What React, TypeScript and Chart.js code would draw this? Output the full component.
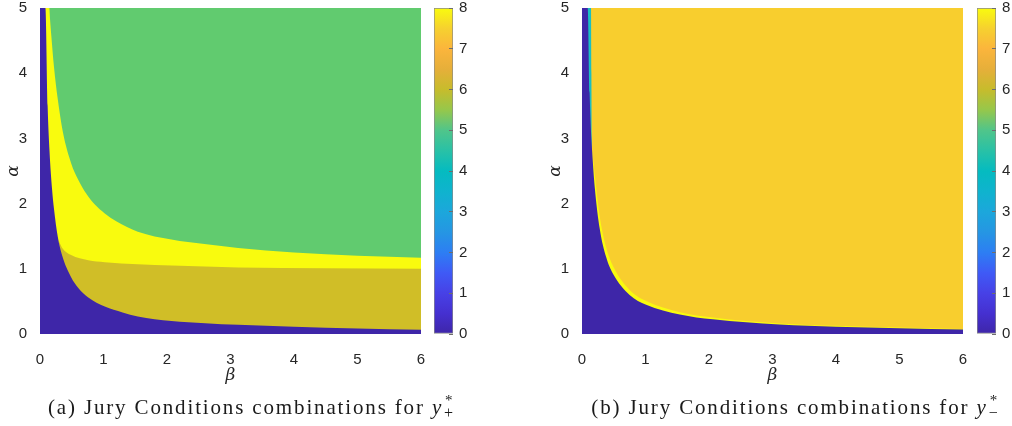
import React, { useEffect, useRef } from 'react';
import { Chart, registerables } from 'chart.js';

Chart.register(...registerables);

// ---------------- data ----------------
const betaTicks = [0, 1, 2, 3, 4, 5, 6];
const alphaTicks = [0, 1, 2, 3, 4, 5];
const levelTicks = [0, 1, 2, 3, 4, 5, 6, 7, 8];

// Panel (a): boundaries of the regions (beta -> alpha)
const aBlueBeta = [0, 0.085, 0.12, 0.15, 0.19, 0.22, 0.28, 0.35, 0.49, 0.6, 0.76, 1.02, 1.3, 1.54, 2.07, 2.6, 3.12, 4, 5, 6];
const aBlueAlpha = [5, 5, 3.5, 2.8, 2.22, 1.92, 1.49, 1.2, 0.87, 0.71, 0.56, 0.42, 0.33, 0.27, 0.2, 0.165, 0.14, 0.11, 0.085, 0.066];
const aOliveBeta = [0.29, 0.35, 0.49, 0.76, 1.02, 1.54, 2.07, 3.12, 4.5, 6];
const aOliveAlpha = [1.44, 1.32, 1.21, 1.13, 1.1, 1.07, 1.05, 1.02, 1.01, 1.0];
const aGreenBeta = [0.145, 0.18, 0.22, 0.28, 0.36, 0.49, 0.6, 0.73, 0.86, 1.02, 1.2, 1.54, 2.07, 2.59, 3.12, 4, 5, 6];
const aGreenAlpha = [5, 4.55, 4.1, 3.6, 3.1, 2.62, 2.37, 2.15, 1.99, 1.85, 1.73, 1.57, 1.45, 1.38, 1.32, 1.25, 1.2, 1.17];
const aTopBeta = [0, 6];
const aTopAlpha = [5, 5];

// Panel (b)
const bBlueBeta = [0, 0.09, 0.12, 0.142, 0.16, 0.2, 0.28, 0.38, 0.49, 0.75, 1.01, 1.54, 2.06, 3.11, 4, 5, 6];
const bBlueAlpha = [5, 5, 3.7, 3.1, 2.8, 2.26, 1.61, 1.18, 0.92, 0.6, 0.45, 0.3, 0.225, 0.145, 0.113, 0.09, 0.07];
const bBandBeta = [0.16, 0.2, 0.28, 0.38, 0.49, 0.75, 1.01, 1.54, 2.06, 3.11, 4, 5, 6];
const bBandAlpha = [2.83, 2.45, 1.8, 1.33, 1.04, 0.675, 0.505, 0.335, 0.252, 0.161, 0.125, 0.099, 0.077];
const bCyanBeta = [0, 0.142, 0.148, 0.153, 0.16];
const bCyanAlpha = [5, 5, 4.0, 3.0, 2.5];
const bTopBeta = [0, 6];
const bTopAlpha = [5, 5];

const captionA = { tag: '(a)', text: 'Jury Conditions combinations for', sub: '+' };
const captionB = { tag: '(b)', text: 'Jury Conditions combinations for', sub: '\u2212' };

// ---------------- styles ----------------
const BLUE = '#3E26A8';
const OLIVE = '#D0BE27';
const GREEN = '#61CB6F';
const YELLOW = '#F9FB0E';
const GOLD = '#F8CE2E';
const CYAN = '#1BBFC2';
const TEXT = '#262626';
const TICK_FONT = { family: "'Liberation Sans', Arial, Helvetica, sans-serif", size: 15 };
const GREEK_FONT = { family: "'DejaVu Serif', 'Liberation Serif', serif", size: 17, style: 'italic' as const };

const PARULA: [number, string][] = [
  [0, '#3E26A8'], [0.0625, '#4530D0'], [0.125, '#4741E6'], [0.1875, '#3F5AF6'],
  [0.25, '#2D7EF3'], [0.3125, '#2596E3'], [0.375, '#1CA7DB'], [0.4375, '#0FB3CE'],
  [0.5, '#05BBC0'], [0.5625, '#29C1A6'], [0.625, '#50C58A'], [0.6875, '#96C74B'],
  [0.75, '#C7BC2C'], [0.8125, '#E6AF3A'], [0.875, '#FBB53C'], [0.9375, '#F6D12F'],
  [1, '#F9FB0E'],
];

const zip = (xs: number[], ys: number[]) => xs.map((x, i) => ({ x, y: ys[i] }));

function region(xs: number[], ys: number[], color: string, fill: string) {
  return {
    data: zip(xs, ys),
    backgroundColor: color,
    borderColor: 'rgba(0,0,0,0)',
    borderWidth: 0,
    pointRadius: 0,
    pointHoverRadius: 0,
    fill,
    cubicInterpolationMode: 'monotone' as const,
    showLine: true,
  };
}

const noScalePadding = (s: any) => {
  s.paddingTop = 0;
  s.paddingBottom = 0;
  s.paddingLeft = 0;
  s.paddingRight = 0;
};

function heatConfig(datasets: any[]) {
  return {
    type: 'line' as const,
    data: { datasets },
    options: {
      responsive: false,
      animation: false as const,
      events: [],
      layout: { padding: { top: 8, right: 9, left: 0, bottom: 0 } },
      plugins: { legend: { display: false }, tooltip: { enabled: false } },
      scales: {
        x: {
          type: 'linear' as const,
          min: 0,
          max: 6,
          border: { display: false },
          grid: { display: false },
          afterBuildTicks: (s: any) => { s.ticks = betaTicks.map((v) => ({ value: v })); },
          ticks: { font: TICK_FONT, color: TEXT, padding: 9, maxRotation: 0, autoSkip: false },
          title: { display: true, text: '\u03B2', font: GREEK_FONT, color: TEXT, padding: { top: 0, bottom: 14 } },
          afterFit: (s: any) => { s.height = 66; noScalePadding(s); },
        },
        y: {
          type: 'linear' as const,
          min: 0,
          max: 5,
          border: { display: false },
          grid: { display: false },
          afterBuildTicks: (s: any) => { s.ticks = alphaTicks.map((v) => ({ value: v })); },
          ticks: { font: TICK_FONT, color: TEXT, padding: 5 },
          title: { display: true, text: '\u03B1', font: GREEK_FONT, color: TEXT, padding: { top: 3, bottom: 0 } },
          afterFit: (s: any) => { s.width = 40; noScalePadding(s); },
        },
      },
    },
  };
}

function colorbarConfig() {
  return {
    type: 'bar' as const,
    data: {
      labels: [''],
      datasets: [
        {
          data: [[levelTicks[0], levelTicks[levelTicks.length - 1]]],
          backgroundColor: (ctx: any) => {
            const area = ctx.chart.chartArea;
            if (!area) return PARULA[0][1];
            const g = ctx.chart.ctx.createLinearGradient(0, area.bottom, 0, area.top);
            PARULA.forEach(([t, c]) => g.addColorStop(t, c));
            return g;
          },
          borderColor: '#8a8a8a',
          borderWidth: 1,
          borderSkipped: false,
          barPercentage: 1,
          categoryPercentage: 1,
        },
      ],
    },
    options: {
      responsive: false,
      animation: false as const,
      events: [],
      layout: { padding: { top: 8, right: 0, left: 0, bottom: 66 } },
      plugins: { legend: { display: false }, tooltip: { enabled: false } },
      scales: {
        x: { display: false, afterFit: noScalePadding },
        y: {
          position: 'right' as const,
          min: 0,
          max: 8,
          border: { display: false },
          grid: { drawOnChartArea: false, drawTicks: true, tickLength: -4, color: '#6e6e6e', z: 1 },
          afterBuildTicks: (s: any) => { s.ticks = levelTicks.map((v) => ({ value: v })); },
          ticks: { font: TICK_FONT, color: TEXT, padding: 10 },
          afterFit: (s: any) => { s.width = 16; noScalePadding(s); },
        },
      },
    },
  };
}

function ChartCanvas({ config, left, top, width, height }: any) {
  const ref = useRef<HTMLCanvasElement>(null);
  useEffect(() => {
    const chart = new Chart(ref.current as HTMLCanvasElement, config);
    return () => chart.destroy();
  }, []);
  return (
    <canvas
      ref={ref}
      width={width}
      height={height}
      style={{ position: 'absolute', left, top, width, height }}
    />
  );
}

function Caption({ cap, center }: any) {
  return (
    <div
      style={{
        position: 'absolute',
        left: center - 300,
        width: 600,
        top: 395,
        textAlign: 'center',
        fontFamily: "'Liberation Serif', 'Times New Roman', serif",
        fontSize: 21,
        letterSpacing: '1.85px',
        color: '#1a1a1a',
        whiteSpace: 'nowrap',
        lineHeight: '24px',
      }}
    >
      {cap.tag} {cap.text}{' '}
      <span style={{ fontStyle: 'italic' }}>y</span>
      <span style={{ display: 'inline-block', position: 'relative', width: 13, height: 16 }}>
        <span style={{ position: 'absolute', left: 2, top: -10, fontSize: 15 }}>*</span>
        <span style={{ position: 'absolute', left: 1, top: 3, fontSize: 16 }}>{cap.sub}</span>
      </span>
    </div>
  );
}

export default function App() {
  const leftDatasets = [
    region(aBlueBeta, aBlueAlpha, BLUE, 'start'),
    region(aOliveBeta, aOliveAlpha, OLIVE, 'start'),
    region(aGreenBeta, aGreenAlpha, GREEN, 'end'),
    region(aTopBeta, aTopAlpha, YELLOW, 'start'),
  ];
  const rightDatasets = [
    region(bBlueBeta, bBlueAlpha, BLUE, 'start'),
    region(bBandBeta, bBandAlpha, YELLOW, 'start'),
    region(bCyanBeta, bCyanAlpha, CYAN, 'start'),
    region(bTopBeta, bTopAlpha, GOLD, 'start'),
  ];
  return (
    <div style={{ position: 'fixed', left: 0, top: 0, width: 1012, height: 426, overflow: 'hidden', background: '#fff' }}>
      <ChartCanvas config={heatConfig(leftDatasets)} left={0} top={0} width={430} height={400} />
      <ChartCanvas config={colorbarConfig()} left={434} top={0} width={35} height={400} />
      <ChartCanvas config={heatConfig(rightDatasets)} left={542} top={0} width={430} height={400} />
      <ChartCanvas config={colorbarConfig()} left={977} top={0} width={35} height={400} />
      <Caption cap={captionA} center={252} />
      <Caption cap={captionB} center={796} />
    </div>
  );
}
